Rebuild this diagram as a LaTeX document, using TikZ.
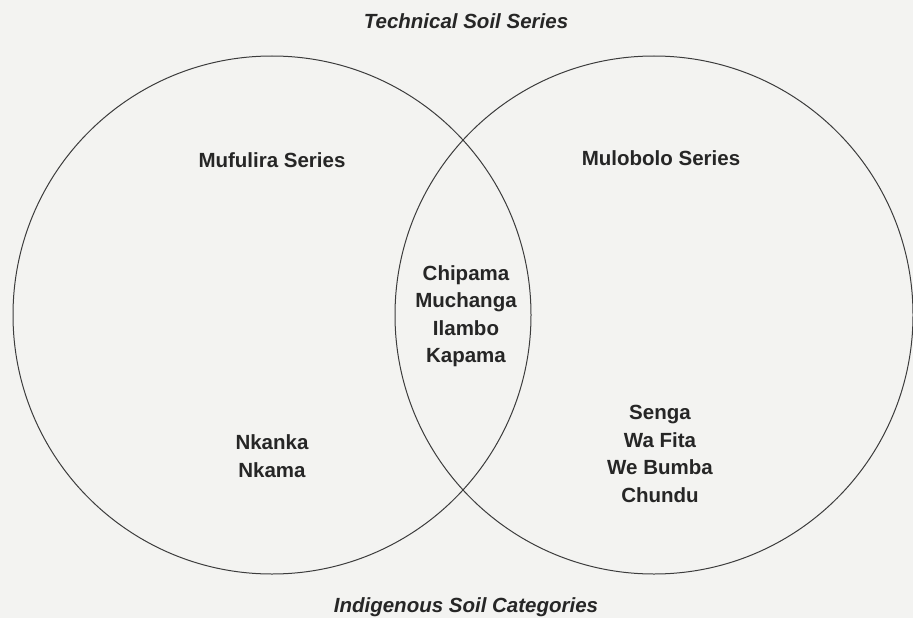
\documentclass[tikz,border=0pt]{standalone}
\usepackage{fontspec}
\setmainfont{Liberation Sans}
\usetikzlibrary{positioning}

\definecolor{paper}{RGB}{243,243,241}
\definecolor{ink}{RGB}{38,38,38}

\begin{document}
\begin{tikzpicture}[x=1pt, y=-1pt, node distance=382pt, on grid]
                \tikzset{soilset/.style={circle, draw=ink!90, line width=1pt, minimum size=518pt, inner sep=0pt},
                         soilname/.style={font=\bfseries\fontsize{20.5}{27.5}\selectfont, text=ink, align=center},
                         axisname/.style={font=\bfseries\itshape\fontsize{20.5}{27.5}\selectfont, text=ink}}

                % PAPER
                \fill[paper] (0,0) rectangle (913,618);
                \useasboundingbox (0,0) rectangle (913,618);

                % SETS
                \node[soilset] (mufulira) at (272,315) {};
                \node[soilset] (mulobolo) [right=of mufulira] {};

                % AXIS TITLES
                \node[axisname] (technical) at (466,21) {Technical Soil Series};
                \node[axisname] (indigenous) at (466,607) {Indigenous Soil Categories};

                % SERIES NAMES
                \node[soilname] (mufuliraname) at (272,160) {Mufulira Series};
                \node[soilname] (mulobononame) at (661,158) {Mulobolo Series};

                % CATEGORIES
                \node[soilname] (shared) at (466,316) {Chipama\\Muchanga\\Ilambo\\Kapama};
                \node[soilname] (mufuliraonly) at (272,456) {Nkanka\\Nkama};
                \node[soilname] (mulobolonly) at (660,454) {Senga\\Wa Fita\\We Bumba\\Chundu};

            \end{tikzpicture}
\end{document}
